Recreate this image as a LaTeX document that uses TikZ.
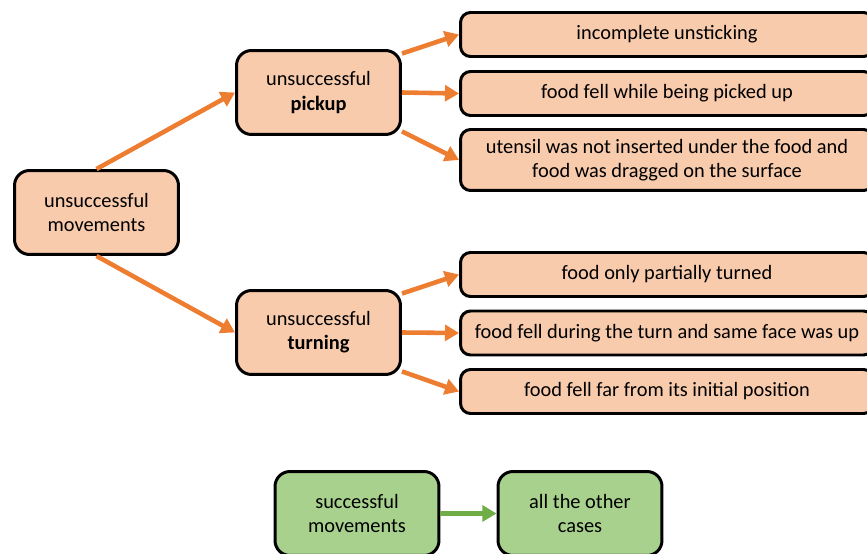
\documentclass[tikz,border=0pt]{standalone}
\usepackage{fontspec}
\setmainfont{Carlito}
\usetikzlibrary{arrows.meta}
\definecolor{peach}{HTML}{F8CBAD}
\definecolor{orangeline}{HTML}{ED7D31}
\definecolor{leaf}{HTML}{A9D18E}
\definecolor{leafline}{HTML}{70AD47}

\begin{document}
\begin{tikzpicture}[x=0.02cm, y=-0.02cm,
  every node/.style={font=\fontsize{11.6}{13.8}\selectfont, align=center},
  box/.style={draw=black, line width=1.7pt, fill=peach, rounded corners=0.3cm,
    minimum width=3.28cm, minimum height=1.68cm, inner sep=0pt},
  wide/.style={draw=black, line width=1.7pt, fill=peach, rounded corners=0.2cm,
    minimum width=8.26cm, minimum height=0.88cm, inner sep=0pt},
  good/.style={box, fill=leaf},
  arr/.style={-{Triangle[length=8pt, width=9pt]}, line width=2.6pt, orangeline}]
\useasboundingbox (0,0) rectangle (867,554);
\node[box] (M) at (96.5,212.5) {unsuccessful\\movements};
\node[box] (P) at (318.5,92.5) {unsuccessful\\\textbf{pickup}};
\node[box] (T) at (318.5,332.5) {unsuccessful\\\textbf{turning}};
\node[wide] (P1) at (667,34.5) {incomplete unsticking};
\node[wide] (P2) at (667,93.5) {food fell while being picked up};
\node[wide, minimum height=1.22cm] (P3) at (667,160) {utensil was not inserted under the food and\\food was dragged on the surface};
\node[wide] (T1) at (667,274.5) {food only partially turned};
\node[wide] (T2) at (667,333) {food fell during the turn and same face was up};
\node[wide] (T3) at (667,391.5) {food fell far from its initial position};
\node[good] (S) at (357,513.5) {successful\\movements};
\node[good] (O) at (580,513.5) {all the other\\cases};
\draw[arr] (M.north) -- (P.west);
\draw[arr] (M.south) -- (T.west);
\draw[arr] (P.25) -- (P1.west);
\draw[arr] (P.east) -- (P2.west);
\draw[arr] (P.-25) -- (P3.west);
\draw[arr] (T.25) -- (T1.west);
\draw[arr] (T.east) -- (T2.west);
\draw[arr] (T.-25) -- (T3.west);
\draw[arr, leafline] (S.east) -- (O.west);
\end{tikzpicture}
\end{document}
